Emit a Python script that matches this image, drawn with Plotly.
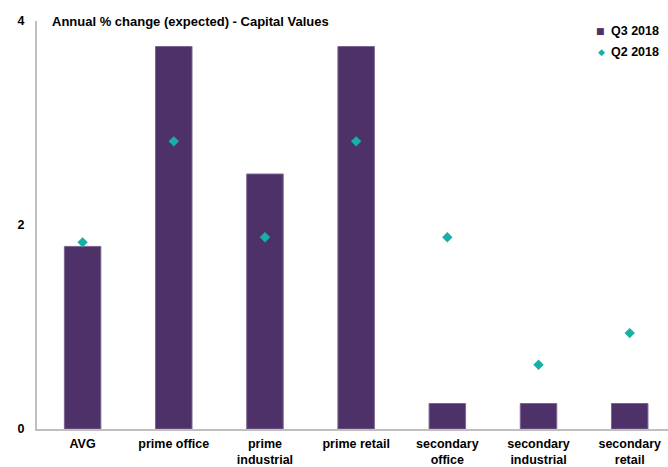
import plotly.graph_objects as go

categories = ["AVG", "prime office", "prime<br>industrial", "prime retail",
              "secondary<br>office", "secondary<br>industrial", "secondary<br>retail"]
q3_2018 = [1.79, 3.75, 2.5, 3.75, 0.25, 0.25, 0.25]
q2_2018 = [1.83, 2.82, 1.88, 2.82, 1.88, 0.63, 0.94]
y_ticks = [0, 2, 4]
series_names = ["Q3 2018", "Q2 2018"]

purple = "#4E3168"
teal = "#17B0A7"
font_family = "Liberation Sans, Arial, sans-serif"

W, H = 668, 467
L, R, T, B = 37, 0, 21, 38
plot_w, plot_h = W - L - R, H - T - B


def px_x(px):
    return (px - L) / plot_w


def px_y(py):
    return (H - B - py) / plot_h


fig = go.Figure()
fig.add_trace(go.Bar(
    x=list(range(len(categories))), y=q3_2018, name=series_names[0],
    marker=dict(color=purple, line=dict(color="#7A6690", width=1)),
    width=0.4, showlegend=False,
))
fig.add_trace(go.Scatter(
    x=list(range(len(categories))), y=q2_2018, name=series_names[1], mode="markers",
    marker=dict(symbol="diamond", color=teal, size=8),
    showlegend=False,
))

# compact legend: coloured glyph followed by series name
legend_rows = [(series_names[0], "■", purple, 9, 31), (series_names[1], "◆", teal, 9, 52)]
annotations = [dict(
    text="<b>Annual % change (expected) - Capital Values</b>",
    xref="paper", yref="paper", x=px_x(50), y=px_y(21), xanchor="left", yanchor="middle",
    showarrow=False, font=dict(family=font_family, size=13, color="black"),
)]
for name, glyph, color, gsize, py in legend_rows:
    annotations.append(dict(
        text=glyph, xref="paper", yref="paper", x=px_x(607), y=px_y(py),
        xanchor="right", yanchor="middle", showarrow=False,
        font=dict(family="DejaVu Sans", size=gsize, color=color),
    ))
    annotations.append(dict(
        text=f"<b>{name}</b>", xref="paper", yref="paper", x=px_x(609), y=px_y(py),
        xanchor="left", yanchor="middle", showarrow=False,
        font=dict(family=font_family, size=12.5, color="black"),
    ))

fig.update_layout(
    width=W, height=H,
    margin=dict(l=L, r=R, t=T, b=B, autoexpand=False),
    plot_bgcolor="white", paper_bgcolor="white",
    font=dict(family=font_family, size=12.5, color="black"),
    showlegend=False,
    annotations=annotations,
)
fig.update_xaxes(
    range=[-0.5, 6.42], tickmode="array", tickvals=list(range(len(categories))),
    ticktext=[f"<b>{c}</b>" for c in categories], automargin=False,
    showline=True, linecolor="#BFBFBF", linewidth=2, showgrid=False, zeroline=False,
    ticks="", tickangle=0, tickfont=dict(size=12.5), ticklabelstandoff=2,
)
fig.update_yaxes(
    range=[0, 4], tickmode="array", tickvals=y_ticks, automargin=False,
    ticktext=[f"<b>{v}</b>" for v in y_ticks],
    showline=True, linecolor="#BFBFBF", linewidth=2, showgrid=False, zeroline=False,
    ticks="", ticklabelstandoff=8, tickfont=dict(size=12.5),
)

fig.write_html("out.html")
